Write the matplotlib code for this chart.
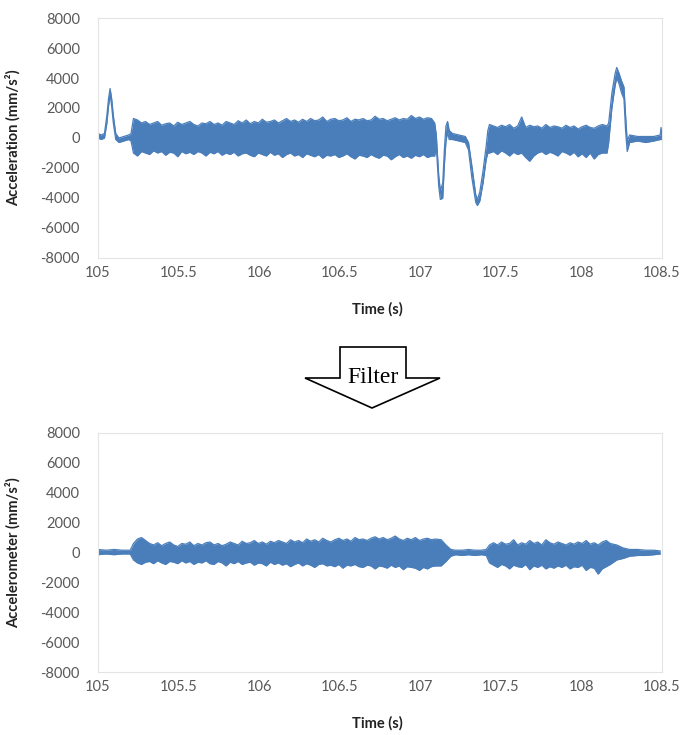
import matplotlib.pyplot as plt
from matplotlib.patches import Polygon
import numpy as np

plt.rcParams['font.family'] = ['Lato', 'DejaVu Sans']
plt.rcParams['axes.unicode_minus'] = False

blue = '#4A7EBB'

# ---- raw signal (mm/s^2): upper / lower envelope of the vibration band ----
# bump at start of motion
raw_t_a = [105.00, 105.02, 105.04, 105.055, 105.065, 105.075, 105.085, 105.095, 105.11, 105.13, 105.16, 105.19, 105.205]
raw_hi_a = [300, 200, 300, 1500, 2600, 3300, 2600, 1500, 300, 0, 100, 200, 300]
raw_lo_a = [0, -100, 0, 1000, 2100, 2900, 2100, 1000, -100, -300, -200, -100, -200]

# first vibration band, 105.22 .. 107.07 s every 0.025 s
raw_hi_b = [1300, 1200, 1000, 1100, 900, 1000, 1100, 850, 950, 1000,
            800, 1050, 900, 1000, 1100, 900, 800, 1000, 950, 1100,
            900, 1000, 850, 1100, 1000, 900, 1150, 1000, 1200, 950,
            1100, 1000, 1250, 1050, 1100, 1200, 1000, 1150, 1300, 1100,
            1200, 1050, 1250, 1100, 1300, 1150, 1200, 1400, 1100, 1250,
            1300, 1150, 1200, 1350, 1100, 1250, 1200, 1300, 1150, 1200,
            1450, 1250, 1300, 1150, 1250, 1350, 1200, 1300, 1250, 1500,
            1300, 1400, 1250, 1350, 1300]
raw_lo_b = [-1000, -1200, -900, -1000, -1100, -850, -1000, -900, -1150, -950,
            -1000, -1250, -900, -1050, -950, -1100, -900, -1000, -1200, -950,
            -1050, -900, -1150, -1000, -1100, -950, -1200, -1050, -1000, -1150,
            -1250, -1000, -1100, -1200, -950, -1150, -1050, -1300, -1100, -1000,
            -1200, -1100, -1300, -1050, -1150, -1250, -1100, -1350, -1150, -1200,
            -1100, -1300, -1200, -1050, -1250, -1400, -1150, -1200, -1300, -1100,
            -1250, -1350, -1150, -1200, -1450, -1250, -1100, -1300, -1200, -1350,
            -1150, -1250, -1100, -1300, -1200]
raw_t_b = np.linspace(105.22, 107.07, len(raw_hi_b))

# two dips while the platform turns
raw_t_c = [107.09, 107.10, 107.115, 107.125, 107.14, 107.15, 107.16, 107.17, 107.18, 107.20, 107.24, 107.28,
           107.30, 107.32, 107.345, 107.355, 107.37, 107.39, 107.41, 107.42]
raw_hi_c = [1000, 200, -2500, -3500, -3000, -800, 800, 1100, 500, 300, 200, 100,
            -300, -1800, -3800, -4100, -3600, -2200, -500, 500]
raw_lo_c = [-1200, -600, -3200, -4100, -4000, -1800, -200, 400, -100, -100, -200, -300,
            -800, -2600, -4300, -4500, -4200, -3000, -1400, -1000]

# second vibration band, 107.43 .. 108.13 s
raw_hi_d = [900, 800, 700, 850, 750, 900, 650, 800, 1400, 700,
            850, 750, 800, 650, 900, 700, 800, 750, 650, 850,
            700, 800, 600, 750, 850, 700, 650, 800, 900]
raw_lo_d = [-1000, -900, -1100, -850, -1000, -1200, -950, -1100, -1000, -1300,
            -1550, -1200, -1000, -900, -1100, -950, -1050, -1200, -900, -1000,
            -1150, -950, -1250, -1050, -1300, -1000, -1400, -1100, -1000]
raw_t_d = np.linspace(107.43, 108.13, len(raw_hi_d))

# braking peak and rest
raw_t_e = [108.16, 108.17, 108.19, 108.21, 108.22, 108.235, 108.25, 108.265, 108.275, 108.285,
           108.30, 108.35, 108.40, 108.45, 108.49, 108.495, 108.50]
raw_hi_e = [800, 1000, 3000, 4300, 4700, 4300, 3800, 3400, 1500, -200,
            200, 100, 100, 100, 200, 700, 300]
raw_lo_e = [-1000, -300, 2000, 3500, 4000, 3600, 3000, 2600, 500, -900,
            -300, -200, -300, -200, -100, -100, -100]

# ---- filtered signal envelope ----
flt_t_a = [105.00, 105.05, 105.10, 105.15, 105.20]
flt_hi_a = [200, 150, 200, 150, 150]
flt_lo_a = [-150, -100, -150, -100, -100]

flt_hi_b = [600, 900, 1000, 800, 600, 500, 650, 450, 600, 700,
            500, 400, 600, 550, 700, 450, 600, 500, 650, 700,
            500, 600, 450, 550, 700, 600, 500, 750, 600, 650,
            800, 600, 700, 550, 750, 650, 800, 700, 600, 850,
            700, 800, 650, 900, 750, 850, 700, 950, 800, 700,
            850, 950, 800, 900, 750, 1000, 850, 900, 800, 950,
            1050, 900, 1000, 850, 950, 1100, 900, 800, 950, 850,
            1000, 800, 900, 950, 850, 900]
flt_lo_b = [-500, -700, -800, -650, -600, -750, -550, -700, -800, -600,
            -650, -750, -550, -700, -600, -800, -650, -700, -550, -750,
            -800, -600, -700, -900, -650, -750, -600, -800, -700, -650,
            -850, -700, -750, -900, -650, -800, -700, -850, -750, -950,
            -800, -700, -900, -750, -850, -1000, -800, -750, -900, -850,
            -950, -800, -1050, -850, -900, -800, -950, -1000, -850, -900,
            -1100, -900, -950, -1050, -850, -1000, -900, -1150, -950, -1000,
            -1050, -1200, -1000, -1100, -950, -900]
flt_t_b = np.linspace(105.22, 107.095, len(flt_hi_b))

flt_t_c = [107.13, 107.16, 107.19, 107.22, 107.26, 107.30, 107.34, 107.38, 107.41]
flt_hi_c = [850, 500, 200, 150, 150, 200, 150, 150, 200]
flt_lo_c = [-900, -600, -250, -150, -200, -150, -200, -150, -200]

flt_hi_d = [500, 650, 500, 700, 550, 600, 850, 500, 650, 550,
            800, 600, 700, 500, 850, 650, 550, 700, 600, 500,
            650, 550, 700, 600, 800, 550, 650, 500, 700, 800,
            600]
flt_lo_d = [-700, -850, -1000, -800, -900, -1100, -850, -950, -1000, -800,
            -1150, -900, -1000, -850, -1100, -950, -1050, -900, -1000, -850,
            -1100, -950, -1000, -850, -1200, -1000, -1050, -1450, -1100, -950,
            -800]
flt_t_d = np.linspace(107.43, 108.18, len(flt_hi_d))

flt_t_e = [108.22, 108.26, 108.30, 108.35, 108.40, 108.45, 108.49]
flt_hi_e = [500, 300, 200, 200, 150, 150, 100]
flt_lo_e = [-500, -400, -250, -200, -200, -150, -100]

xticks = [105, 105.5, 106, 106.5, 107, 107.5, 108, 108.5]
xtick_labels = ['105', '105.5', '106', '106.5', '107', '107.5', '108', '108.5']
yticks = np.arange(-8000, 8001, 2000)

t_raw = np.concatenate([raw_t_a, raw_t_b, raw_t_c, raw_t_d, raw_t_e])
raw_hi = np.concatenate([raw_hi_a, raw_hi_b, raw_hi_c, raw_hi_d, raw_hi_e])
raw_lo = np.concatenate([raw_lo_a, raw_lo_b, raw_lo_c, raw_lo_d, raw_lo_e])
t_flt = np.concatenate([flt_t_a, flt_t_b, flt_t_c, flt_t_d, flt_t_e])
flt_hi = np.concatenate([flt_hi_a, flt_hi_b, flt_hi_c, flt_hi_d, flt_hi_e])
flt_lo = np.concatenate([flt_lo_a, flt_lo_b, flt_lo_c, flt_lo_d, flt_lo_e])

fig = plt.figure(figsize=(6.83, 7.35), dpi=100)
ax1 = fig.add_axes([0.1435, 0.649, 0.8255, 0.3265])
ax2 = fig.add_axes([0.1435, 0.0857, 0.8255, 0.3253])


def draw(ax, t, hi, lo, ylabel):
    ax.fill_between(t, lo, hi, color=blue, lw=0)
    ax.plot(t, hi, color=blue, lw=0.9)
    ax.plot(t, lo, color=blue, lw=0.9)
    ax.set_xlim(105, 108.5)
    ax.set_ylim(-8000, 8000)
    ax.set_xticks(xticks)
    ax.set_xticklabels(xtick_labels)
    ax.set_yticks(yticks)
    ax.tick_params(length=0, labelsize=10.5, labelcolor='#595959')
    ax.tick_params(axis='y', pad=13)
    ax.tick_params(axis='x', pad=6)
    for s in ax.spines.values():
        s.set_color('#e4e4e4')
        s.set_linewidth(0.8)
    ax.set_xlabel('Time (s)', fontsize=10.5, fontweight='bold', color='#222222')
    ax.set_ylabel(ylabel, fontsize=10.5, fontweight='bold', color='#222222')
    ax.xaxis.set_label_coords(0.496, -0.185)
    ax.yaxis.set_label_coords(-0.137, 0.5)


draw(ax1, t_raw, raw_hi, raw_lo, 'Acceleration (mm/s²)')
draw(ax2, t_flt, flt_hi, flt_lo, 'Accelerometer (mm/s²)')

# block arrow between the two panels
W, H = 683.0, 735.0
pts = [(340, 347), (406, 347), (406, 378), (440, 378), (372, 408), (305, 378), (340, 378)]
arrow = Polygon([(x / W, 1 - y / H) for x, y in pts], closed=True,
                transform=fig.transFigure, facecolor='white', edgecolor='black', lw=1.2)
fig.patches.append(arrow)
fig.text(373 / W, 1 - 378 / H, 'Filter', family='Liberation Serif', fontsize=17,
         ha='center', va='center')

fig.savefig('out.png', dpi=100)
